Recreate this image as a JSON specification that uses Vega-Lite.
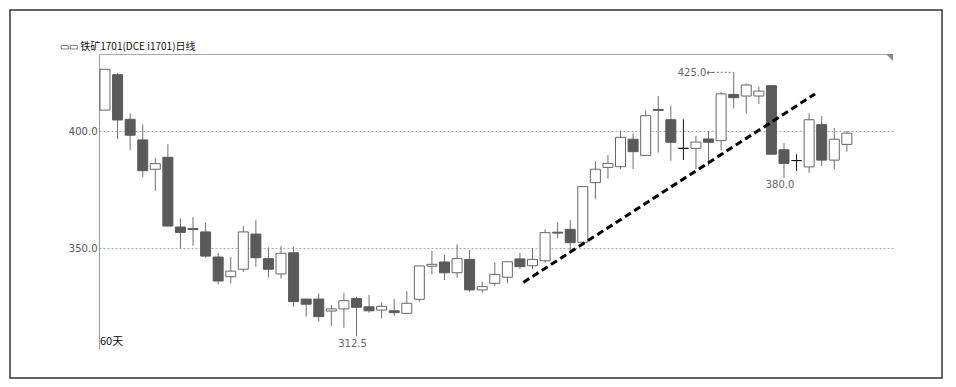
{
  "$schema": "https://vega.github.io/schema/vega-lite/v6.json",
  "width": 794,
  "height": 295,
  "autosize": {"type": "none"},
  "padding": {"left": 99, "top": 54, "right": 63, "bottom": 38},
  "background": "white",
  "config": {"view": {"stroke": null}},
  "datasets": {
    "k": [
      {"d": 0, "o": 408.9, "h": 426.3, "l": 408.9, "c": 426.3},
      {"d": 1, "o": 424.0, "h": 424.6, "l": 396.5, "c": 404.7},
      {"d": 2, "o": 405.0, "h": 407.5, "l": 391.9, "c": 398.2},
      {"d": 3, "o": 396.2, "h": 402.8, "l": 380.3, "c": 383.1},
      {"d": 4, "o": 383.7, "h": 388.6, "l": 374.4, "c": 386.1},
      {"d": 5, "o": 388.8, "h": 394.3, "l": 359.5, "c": 359.5},
      {"d": 6, "o": 359.1, "h": 362.8, "l": 350.0, "c": 356.8},
      {"d": 7, "o": 358.4, "h": 363.4, "l": 351.1, "c": 358.0},
      {"d": 8, "o": 357.0, "h": 360.9, "l": 346.0, "c": 346.7},
      {"d": 9, "o": 346.3, "h": 348.1, "l": 334.7, "c": 336.1},
      {"d": 10, "o": 337.9, "h": 346.3, "l": 335.1, "c": 340.3},
      {"d": 11, "o": 341.1, "h": 359.5, "l": 340.0, "c": 357.0},
      {"d": 12, "o": 356.1, "h": 362.1, "l": 342.2, "c": 346.0},
      {"d": 13, "o": 345.6, "h": 350.4, "l": 337.5, "c": 341.1},
      {"d": 14, "o": 339.1, "h": 351.1, "l": 337.1, "c": 347.9},
      {"d": 15, "o": 348.1, "h": 350.7, "l": 325.1, "c": 327.3},
      {"d": 16, "o": 328.4, "h": 328.4, "l": 320.9, "c": 326.2},
      {"d": 17, "o": 328.4, "h": 330.8, "l": 318.8, "c": 320.9},
      {"d": 18, "o": 323.3, "h": 325.9, "l": 316.9, "c": 324.2},
      {"d": 19, "o": 324.2, "h": 331.1, "l": 316.2, "c": 327.7},
      {"d": 20, "o": 328.6, "h": 329.4, "l": 312.5, "c": 324.9},
      {"d": 21, "o": 325.1, "h": 330.1, "l": 322.6, "c": 323.4},
      {"d": 22, "o": 323.7, "h": 327.0, "l": 320.2, "c": 325.3},
      {"d": 23, "o": 323.4, "h": 328.4, "l": 321.2, "c": 322.6},
      {"d": 24, "o": 322.3, "h": 331.8, "l": 322.3, "c": 326.6},
      {"d": 25, "o": 328.3, "h": 342.5, "l": 327.3, "c": 342.5},
      {"d": 26, "o": 342.4, "h": 348.9, "l": 338.9, "c": 343.2},
      {"d": 27, "o": 344.2, "h": 347.2, "l": 336.5, "c": 339.6},
      {"d": 28, "o": 339.6, "h": 351.7, "l": 337.5, "c": 345.6},
      {"d": 29, "o": 345.3, "h": 349.3, "l": 331.5, "c": 332.3},
      {"d": 30, "o": 332.3, "h": 335.8, "l": 331.1, "c": 333.7},
      {"d": 31, "o": 335.1, "h": 344.0, "l": 334.0, "c": 338.9},
      {"d": 32, "o": 337.7, "h": 344.3, "l": 335.1, "c": 344.3},
      {"d": 33, "o": 345.5, "h": 348.1, "l": 341.2, "c": 342.2},
      {"d": 34, "o": 342.6, "h": 350.1, "l": 341.2, "c": 345.3},
      {"d": 35, "o": 344.7, "h": 358.1, "l": 343.9, "c": 356.7},
      {"d": 36, "o": 356.9, "h": 361.1, "l": 354.3, "c": 356.5},
      {"d": 37, "o": 358.1, "h": 362.1, "l": 348.1, "c": 352.4},
      {"d": 38, "o": 352.6, "h": 376.3, "l": 352.6, "c": 376.3},
      {"d": 39, "o": 378.0, "h": 387.2, "l": 370.9, "c": 383.7},
      {"d": 40, "o": 384.5, "h": 389.8, "l": 379.8, "c": 386.2},
      {"d": 41, "o": 384.8, "h": 400.1, "l": 383.7, "c": 397.3},
      {"d": 42, "o": 396.5, "h": 399.0, "l": 383.7, "c": 391.2},
      {"d": 43, "o": 389.6, "h": 408.7, "l": 389.6, "c": 406.5},
      {"d": 44, "o": 409.2, "h": 414.9, "l": 390.8, "c": 408.8},
      {"d": 45, "o": 404.8, "h": 410.8, "l": 387.3, "c": 395.2},
      {"d": 46, "o": 392.6, "h": 405.0, "l": 387.6, "c": 392.6},
      {"d": 47, "o": 392.6, "h": 397.9, "l": 383.7, "c": 395.3},
      {"d": 48, "o": 396.6, "h": 400.0, "l": 385.1, "c": 395.2},
      {"d": 49, "o": 395.9, "h": 416.6, "l": 391.9, "c": 415.8},
      {"d": 50, "o": 415.6, "h": 425.0, "l": 409.7, "c": 414.2},
      {"d": 51, "o": 414.9, "h": 420.3, "l": 407.5, "c": 419.6},
      {"d": 52, "o": 414.9, "h": 418.9, "l": 411.5, "c": 417.0},
      {"d": 53, "o": 419.3, "h": 419.3, "l": 390.1, "c": 390.1},
      {"d": 54, "o": 392.0, "h": 394.8, "l": 380.0, "c": 386.2},
      {"d": 55, "o": 387.4, "h": 390.1, "l": 383.0, "c": 387.4},
      {"d": 56, "o": 384.7, "h": 407.5, "l": 382.2, "c": 404.8},
      {"d": 57, "o": 402.7, "h": 406.4, "l": 385.1, "c": 387.6},
      {"d": 58, "o": 387.6, "h": 401.3, "l": 383.7, "c": 396.5},
      {"d": 59, "o": 394.3, "h": 400.0, "l": 391.2, "c": 399.1}
    ],
    "trend": [{"i": 33.27, "v": 335.5}, {"i": 56.47, "v": 415.8}],
    "lows": [{"d": 20, "v": 312.5, "label": "312.5"}, {"d": 54, "v": 380.0, "label": "380.0"}],
    "peak": [{"d": 50, "v": 425.0, "label": "425.0←"}],
    "notes": [{"label": "60天"}],
    "heading": [{"label": "▭▭ 铁矿1701(DCE i1701)日线"}]
  },
  "layer": [
    {
      "data": {"name": "k"},
      "mark": {"type": "rule", "strokeWidth": 1},
      "encoding": {
        "x": {"field": "d", "type": "quantitative", "scale": {"domain": [-0.477, 62.67], "nice": false, "zero": false, "padding": 0},
              "axis": {"orient": "top", "labels": false, "ticks": false, "grid": false, "title": null, "domainColor": "#aaa", "domainWidth": 1}},
        "y": {"field": "l", "type": "quantitative", "scale": {"domain": [307.12, 432.81], "nice": false, "zero": false, "padding": 0},
              "axis": {"values": [350, 400], "format": ".1f", "title": null, "ticks": false, "labelPadding": 2, "labelFont": "DejaVu Sans", "labelFontSize": 10, "labelColor": "#555", "domainColor": "#999", "domainWidth": 1, "grid": true, "gridColor": "#aaa", "gridDash": [2, 2]}},
        "y2": {"field": "h"},
        "stroke": {"condition": {"test": "datum.o == datum.c", "value": "#111"}, "value": "#6f6f6f"}
      }
    },
    {
      "data": {"name": "k"},
      "mark": {"type": "bar", "width": 10, "strokeWidth": 1},
      "encoding": {
        "x": {"field": "d", "type": "quantitative", "title": null},
        "y": {"field": "o", "type": "quantitative", "title": null},
        "y2": {"field": "c"},
        "fill": {"condition": {"test": "datum.c > datum.o", "value": "white"}, "value": "#5a5a5a"},
        "stroke": {"condition": [{"test": "datum.c > datum.o", "value": "#666"}, {"test": "datum.c == datum.o", "value": "#111"}], "value": "#5a5a5a"}
      }
    },
    {
      "data": {"name": "trend"},
      "mark": {"type": "line", "color": "black", "strokeWidth": 3, "strokeDash": [7, 4], "strokeCap": "butt"},
      "encoding": {
        "x": {"field": "i", "type": "quantitative", "title": null},
        "y": {"field": "v", "type": "quantitative", "title": null}
      }
    },
    {
      "data": {"name": "lows"},
      "mark": {"type": "text", "font": "DejaVu Sans", "fontSize": 10, "fill": "#666", "baseline": "middle", "align": "center", "dx": -4, "dy": 7.5},
      "encoding": {
        "x": {"field": "d", "type": "quantitative", "title": null},
        "y": {"field": "v", "type": "quantitative", "title": null},
        "text": {"field": "label"}
      }
    },
    {
      "data": {"name": "peak"},
      "mark": {"type": "rule", "stroke": "#777", "strokeDash": [2, 2], "strokeWidth": 1, "xOffset": -21},
      "encoding": {
        "x": {"field": "d", "type": "quantitative", "title": null},
        "x2": {"field": "d"},
        "y": {"field": "v", "type": "quantitative", "title": null}
      }
    },
    {
      "data": {"name": "peak"},
      "mark": {"type": "text", "font": "DejaVu Sans", "fontSize": 10, "fill": "#666", "baseline": "middle", "align": "right", "dx": -19, "dy": 1},
      "encoding": {
        "x": {"field": "d", "type": "quantitative", "title": null},
        "y": {"field": "v", "type": "quantitative", "title": null},
        "text": {"field": "label"}
      }
    },
    {
      "data": {"name": "notes"},
      "mark": {"type": "text", "font": "Noto Sans CJK SC", "fontSize": 11, "fill": "#111", "baseline": "middle", "align": "left", "dx": 1},
      "encoding": {
        "x": {"datum": -0.477, "type": "quantitative"},
        "y": {"datum": 310.1, "type": "quantitative"},
        "text": {"field": "label"}
      }
    },
    {
      "data": {"name": "heading"},
      "mark": {"type": "text", "font": "Noto Sans CJK SC", "fontSize": 10, "fill": "#111", "baseline": "alphabetic", "align": "left", "clip": false},
      "encoding": {
        "x": {"datum": -3.579, "type": "quantitative"},
        "y": {"datum": 434.51, "type": "quantitative"},
        "text": {"field": "label"}
      }
    },
    {
      "data": {"name": "notes"},
      "mark": {"type": "point", "shape": "M-1,0L0,0L0,1Z", "size": 196, "filled": true, "fill": "#888", "opacity": 1, "clip": false},
      "encoding": {
        "x": {"datum": 62.67, "type": "quantitative"},
        "y": {"datum": 432.81, "type": "quantitative"}
      }
    },
    {
      "data": {"name": "notes"},
      "mark": {"type": "rect", "fillOpacity": 0, "stroke": "#333", "strokeWidth": 1.5, "clip": false},
      "encoding": {
        "x": {"datum": -7.556, "type": "quantitative"},
        "x2": {"datum": 66.57},
        "y": {"datum": 451.56, "type": "quantitative"},
        "y2": {"datum": 294.76}
      }
    }
  ]
}
